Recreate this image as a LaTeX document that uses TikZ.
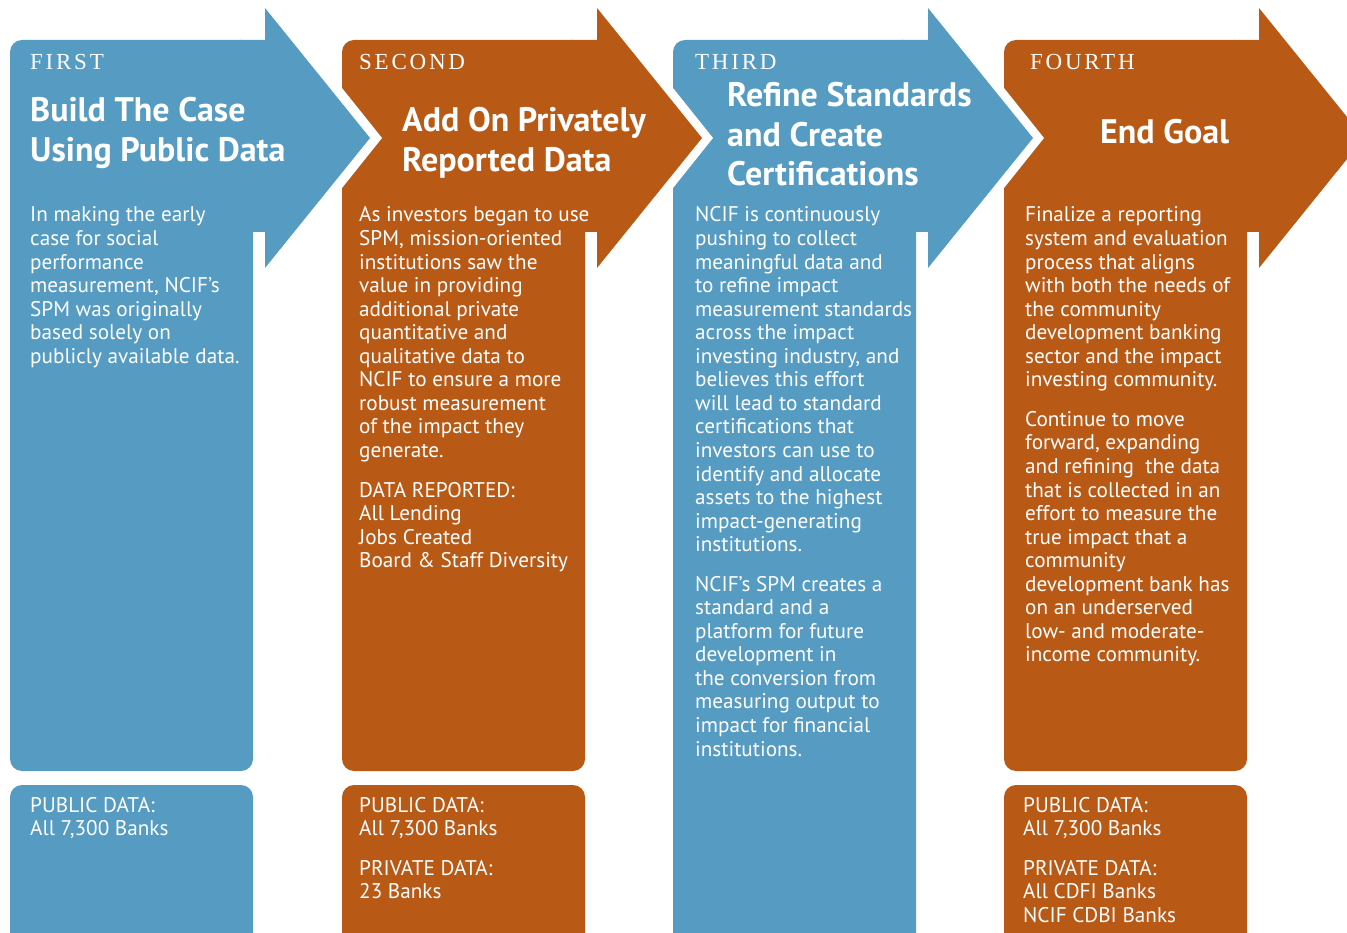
\documentclass[tikz,border=0pt]{standalone}
\usepackage{fontspec}
\setmainfont{PT Sans}
\newfontfamily\stagefont[LetterSpace=12]{Liberation Serif}
\definecolor{ncifblue}{HTML}{569BC1}
\definecolor{nciforange}{HTML}{B85916}
% lines of a text block, aligned on the baseline of the first one
\newcommand{\stagelines}[1]{\begin{tabular}[t]{@{}l@{}}#1\end{tabular}}
\tikzset{
  stagelabel/.style={anchor=base west, inner sep=0pt, text=white,
    font=\stagefont\fontsize{23}{24}\selectfont},
  stagetitle/.style={anchor=base west, inner sep=0pt, text=white,
    font=\bfseries\fontsize{34}{39.5}\selectfont},
  stagetext/.style={anchor=base west, inner sep=0pt, text=white,
    font=\fontsize{21.2}{23.55}\selectfont},
}
\begin{document}
\begin{tikzpicture}[x=1pt,y=-1pt]
        \useasboundingbox (0,0) rectangle (1347,933);
        \clip (0,0) rectangle (1347,933);
        % Column bodies
        \fill[ncifblue,rounded corners=12pt] (10,40) rectangle (253,771);
        \fill[nciforange,rounded corners=12pt] (342,40) rectangle (585,771);
        \fill[ncifblue,rounded corners=12pt] (673,40) rectangle (916,960);
        \fill[nciforange,rounded corners=12pt] (1004,40) rectangle (1247,771);
        % Boxes at the bottom
        \fill[ncifblue,rounded corners=12pt] (10,785) rectangle (253,960);
        \fill[nciforange,rounded corners=12pt] (342,785) rectangle (585,960);
        \fill[nciforange,rounded corners=12pt] (1004,785) rectangle (1247,960);
        % Notches where the previous arrow points in
        \fill[white] (342,88) -- (382,138) -- (342,188) -- cycle;
        \fill[white] (673,88) -- (713,138) -- (673,188) -- cycle;
        \fill[white] (1004,88) -- (1044,138) -- (1004,188) -- cycle;
        % Arrow heads
        \fill[ncifblue] (240,40) -- (265,40) -- (265,8) -- (370,138)
            -- (265,268) -- (265,232) -- (240,232) -- cycle;
        \fill[nciforange] (572,40) -- (597,40) -- (597,8) -- (702,138)
            -- (597,268) -- (597,232) -- (572,232) -- cycle;
        \fill[ncifblue] (903,40) -- (928,40) -- (928,8) -- (1033,138)
            -- (928,268) -- (928,232) -- (903,232) -- cycle;
        \fill[nciforange] (1234,40) -- (1259,40) -- (1259,8) -- (1364,138)
            -- (1259,268) -- (1259,232) -- (1234,232) -- cycle;
        % First column
        \node[stagelabel] (first) at (30,70) {FIRST};
        \node[stagetitle] (firsttitle) at (30,122)
            {\stagelines{Build The Case\\Using Public Data}};
        \node[stagetext] (firsttext) at (30,222)
            {\stagelines{In making the early\\case for social\\performance\\
             measurement, NCIF’s\\SPM was originally\\based solely on\\
             publicly available data.}};
        \node[stagetext] (firstdata) at (30,812)
            {\stagelines{PUBLIC DATA:\\All 7,300 Banks}};
        % Second column
        \node[stagelabel] (second) at (359,70) {SECOND};
        \node[stagetitle] (secondtitle) at (402,132)
            {\stagelines{Add On Privately\\Reported Data}};
        \node[stagetext] (secondtext) at (359,222)
            {\stagelines{As investors began to use\\SPM, mission-oriented\\
             institutions saw the\\value in providing\\additional private\\
             quantitative and\\qualitative data to\\NCIF to ensure a more\\
             robust measurement\\of the impact they\\generate.\\[16pt]
             DATA REPORTED:\\All Lending\\Jobs Created\\
             Board \& Staff Diversity}};
        \node[stagetext] (seconddata) at (359,812)
            {\stagelines{PUBLIC DATA:\\All 7,300 Banks\\[16pt]
             PRIVATE DATA:\\23 Banks}};
        % Third column
        \node[stagelabel] (third) at (695,70) {THIRD};
        \node[stagetitle] (thirdtitle) at (727,107)
            {\stagelines{Refine Standards\\and Create\\Certifications}};
        \node[stagetext] (thirdtext) at (695,222)
            {\stagelines{NCIF is continuously\\pushing to collect\\
             meaningful data and\\to refine impact\\measurement standards\\
             across the impact\\investing industry, and\\
             believes this effort\\will lead to standard\\
             certifications that\\investors can use to\\
             identify and allocate\\assets to the highest\\
             impact-generating\\institutions.\\[16pt]
             NCIF’s SPM creates a\\standard and a\\platform for future\\
             development in\\the conversion from\\measuring output to\\
             impact for financial\\institutions.}};
        % Fourth column
        \node[stagelabel] (fourth) at (1030,70) {FOURTH};
        \node[stagetitle] (fourthtitle) at (1100,144) {End Goal};
        \node[stagetext] (fourthtext) at (1025,222)
            {\stagelines{Finalize a reporting\\system and evaluation\\
             process that aligns\\with both the needs of\\the community\\
             development banking\\sector and the impact\\
             investing community.\\[16pt]
             Continue to move\\forward, expanding\\
             and refining\ \ the data\\that is collected in an\\
             effort to measure the\\true impact that a\\community\\
             development bank has\\on an underserved\\
             low- and moderate-\\income community.}};
        \node[stagetext] (fourthdata) at (1023,812)
            {\stagelines{PUBLIC DATA:\\All 7,300 Banks\\[16pt]
             PRIVATE DATA:\\All CDFI Banks\\NCIF CDBI Banks}};
    \end{tikzpicture}
\end{document}
